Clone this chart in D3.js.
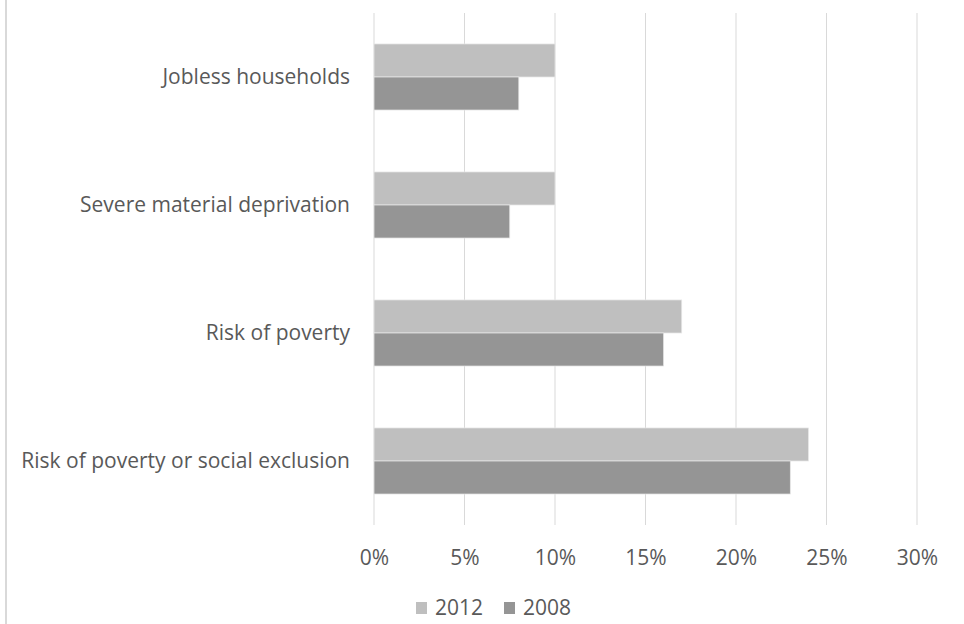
<!DOCTYPE html>
<html>
<head>
<meta charset="utf-8">
<script src="https://cdn.jsdelivr.net/npm/d3@7"></script>
<style>
  body { margin: 0; background: #fff; }
  text { font-family: "Open Sans", Lato, sans-serif; fill: #595959; }
</style>
</head>
<body>
<svg id="chart" width="964" height="624"></svg>
<script>
// data, top to bottom as shown
var categories = ['Jobless households', 'Severe material deprivation', 'Risk of poverty', 'Risk of poverty or social exclusion'];
var series = ['2012', '2008'];
var values2012 = [0.10, 0.10, 0.17, 0.24];
var values2008 = [0.08, 0.075, 0.16, 0.23];
var xTicks = [0, 0.05, 0.10, 0.15, 0.20, 0.25, 0.30];
var colors = {'2012': '#bfbfbf', '2008': '#959595'};

var svg = d3.select('#chart');

// left border line of the chart frame
svg.append('line')
    .attr('x1', 6).attr('x2', 6)
    .attr('y1', 0).attr('y2', 624)
    .attr('stroke', '#d9d9d9').attr('stroke-width', 2);

var x = d3.scaleLinear().domain([0, 0.30]).range([374, 917]);
var y = d3.scaleBand().domain(categories).range([13, 525])
    .paddingInner(0.484).paddingOuter(0.242);
var ySub = d3.scaleBand().domain(series).range([0, y.bandwidth()]);

//gridlines
svg.append('g').selectAll('line')
    .data(xTicks).enter().append('line')
    .attr('x1', d => x(d)).attr('x2', d => x(d))
    .attr('y1', 13).attr('y2', 525)
    .attr('stroke', '#d9d9d9').attr('stroke-width', 1);

var rows = categories.map(function(c, i) {
    return {cat: c, vals: [{s: '2012', v: values2012[i]}, {s: '2008', v: values2008[i]}]};
});

var groups = svg.append('g').selectAll('g')
    .data(rows).enter().append('g')
    .attr('transform', d => 'translate(0,' + y(d.cat) + ')');

groups.selectAll('rect')
    .data(d => d.vals).enter().append('rect')
    .attr('x', x(0))
    .attr('y', d => ySub(d.s))
    .attr('width', d => x(d.v) - x(0))
    .attr('height', ySub.bandwidth())
    .attr('fill', d => colors[d.s])
    .attr('stroke', '#e6e6e6').attr('stroke-width', 0.75);

// category labels
svg.append('g').selectAll('text')
    .data(categories).enter().append('text')
    .attr('x', 350)
    .attr('y', d => y(d) + y.bandwidth() / 2)
    .attr('dy', '0.35em')
    .attr('text-anchor', 'end')
    .style('font-size', '21px')
    .text(d => d);

// x axis tick labels
var xAxis = d3.axisBottom(x).tickValues(xTicks).tickFormat(d3.format('.0%')).tickSize(0).tickPadding(0);
var axG = svg.append('g').attr('transform', 'translate(0,550)').call(xAxis);
axG.select('.domain').remove();
axG.selectAll('text').style('font-size', '21px').style('font-family', '"Open Sans", sans-serif').attr('fill', '#595959');

// legend
var legend = svg.append('g').selectAll('g')
    .data(series).enter().append('g')
    .attr('transform', (d, i) => 'translate(' + (416 + i * 88) + ',602)');
legend.append('rect')
    .attr('width', 11).attr('height', 12)
    .attr('fill', d => colors[d]);
legend.append('text')
    .attr('x', 19).attr('y', 6).attr('dy', '0.35em')
    .style('font-size', '21px')
    .text(d => d);
</script>
</body>
</html>
